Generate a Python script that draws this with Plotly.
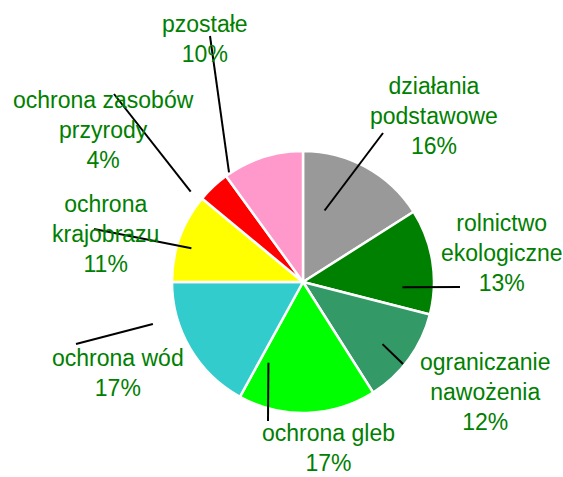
import math
import plotly.graph_objects as go

# ---- data ----
categories = ["działania<br>podstawowe", "rolnictwo<br>ekologiczne", "ograniczanie<br>nawożenia",
              "ochrona gleb", "ochrona wód", "ochrona<br>krajobrazu",
              "ochrona zasobów<br>przyrody", "pzostałe"]
values = [16, 13, 12, 17, 17, 11, 4, 10]
colors = ["#999999", "#008000", "#339966", "#00FF00", "#33CCCC", "#FFFF00", "#FF0000", "#FF99CC"]

# ---- layout (pixels) ----
W, H = 563, 477
CX, CY, R = 303, 282, 131
# label block centres
label_pos = [(434, 116), (501, 253), (485, 392), (328, 448), (118, 373), (105, 234), (103, 130), (205, 39)]
# leader lines: label-side end (px), angle offset from slice mid-angle (deg), radial fraction
leader_label_end = [(383, 133), (460, 287), (403, 364), (268, 421), (76, 344), (94, 229), (114, 94), (210, 36)]
leader_dtheta = [-12, 12, 2, 25, 15, -3, -8, -16]
leader_rfrac = [0.57, 0.76, 0.77, 0.67, 1.19, 0.89, 1.1, 1.01]

total = sum(values)
fig = go.Figure(go.Pie(
    labels=[c.replace("<br>", " ") for c in categories],
    values=values,
    sort=False,
    direction="clockwise",
    rotation=0,
    textinfo="none",
    hoverinfo="label+percent",
    marker=dict(colors=colors, line=dict(color="white", width=2.5)),
    domain=dict(x=[(CX - R) / W, (CX + R) / W], y=[1 - (CY + R) / H, 1 - (CY - R) / H]),
    showlegend=False,
))

shapes = []
annotations = []
cum = 0
for i, v in enumerate(values):
    mid = (cum + v / 2) / total * 360
    cum += v
    pct = round(v / total * 100)
    lx, ly = label_pos[i]
    annotations.append(dict(
        x=lx / W, y=1 - ly / H, xref="paper", yref="paper",
        text=f"{categories[i]}<br>{pct}%", showarrow=False,
        xanchor="center", yanchor="middle", align="center",
        font=dict(family="Liberation Sans, Arial", size=23, color="#008000"),
    ))
    ang = math.radians(mid + leader_dtheta[i])
    r = leader_rfrac[i] * R
    px = CX + r * math.sin(ang)
    py = CY - r * math.cos(ang)
    ex, ey = leader_label_end[i]
    shapes.append(dict(type="line", xref="paper", yref="paper",
                       x0=px / W, y0=1 - py / H, x1=ex / W, y1=1 - ey / H,
                       line=dict(color="black", width=2)))

fig.update_layout(
    width=W, height=H,
    margin=dict(l=0, r=0, t=0, b=0),
    paper_bgcolor="white", plot_bgcolor="white",
    shapes=shapes, annotations=annotations,
)
fig.write_html("out.html", config={"displayModeBar": False},
               post_script="document.body.style.margin='0';document.body.style.overflow='hidden';")
